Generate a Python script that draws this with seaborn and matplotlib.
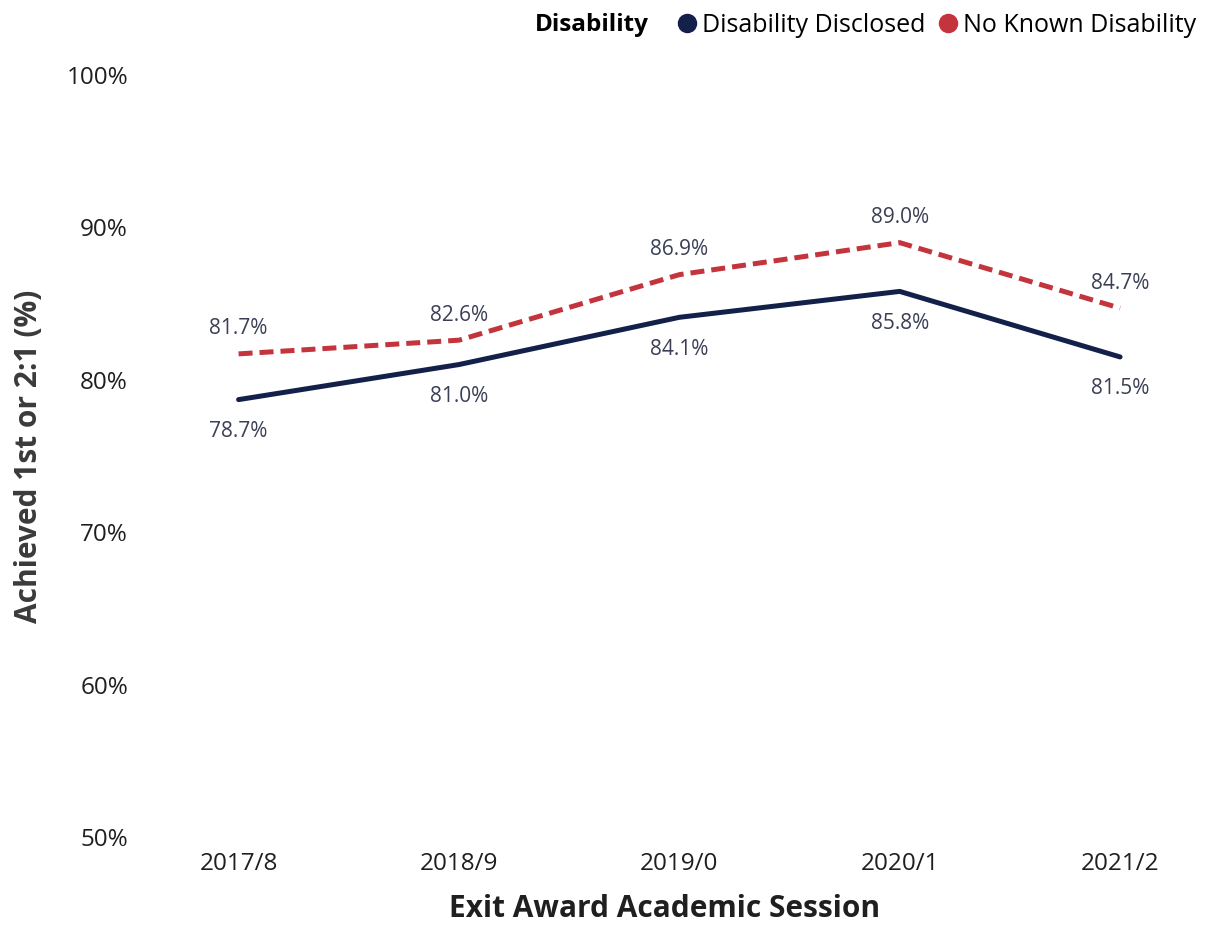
import matplotlib
matplotlib.use("Agg")
import matplotlib.pyplot as plt
import seaborn as sns
import pandas as pd
from matplotlib.lines import Line2D

sessions = ["2017/8", "2018/9", "2019/0", "2020/1", "2021/2"]
disclosed = [78.7, 81.0, 84.1, 85.8, 81.5]
no_known = [81.7, 82.6, 86.9, 89.0, 84.7]
series_names = ["Disability Disclosed", "No Known Disability"]
y_ticks = [50, 60, 70, 80, 90, 100]

navy = "#13214a"
red = "#c4343c"
text_dark = "#1f1f1f"
ylab_col = "#3a3a3a"
label_col = "#3b3f55"

sns.set_theme(style="white")
plt.rcParams['font.family'] = ['Open Sans', 'DejaVu Sans']

df = pd.DataFrame({
    "session": sessions * 2,
    "value": disclosed + no_known,
    "series": [series_names[0]] * len(sessions) + [series_names[1]] * len(sessions),
})

fig = plt.figure(figsize=(12.08, 9.27), dpi=100)
ax = fig.add_axes([135 / 1208, 1 - 837 / 927, (1195 - 135) / 1208, (837 - 75) / 927])

sns.lineplot(data=df, x="session", y="value", hue="series", style="series",
             palette={series_names[0]: navy, series_names[1]: red},
             dashes={series_names[0]: "", series_names[1]: (2.8, 1.4)},
             linewidth=3.6, sort=False, legend=False, ax=ax)

ax.set_ylim(50, 100)
ax.set_xlim(-0.47, 4.34)
ax.set_yticks(y_ticks)
ax.set_yticklabels([f"{t}%" for t in y_ticks])
for s in ax.spines.values():
    s.set_visible(False)
ax.grid(False)
ax.tick_params(axis="both", length=0, labelsize=17.5, colors=text_dark)
ax.tick_params(axis="x", pad=11)
ax.tick_params(axis="y", pad=5)

for i, (d, n) in enumerate(zip(disclosed, no_known)):
    ax.annotate(f"{n:.1f}%", (i, n), xytext=(0, 18), textcoords="offset points",
                ha="center", va="center", fontsize=15, color=label_col)
    ax.annotate(f"{d:.1f}%", (i, d), xytext=(0, -23), textcoords="offset points",
                ha="center", va="center", fontsize=15, color=label_col)

ax.set_xlabel("Exit Award Academic Session", fontsize=21.5, fontweight="bold",
              color=text_dark, labelpad=13)
ax.set_ylabel("Achieved 1st or 2:1 (%)", fontsize=21.5, fontweight="bold",
              color=ylab_col, labelpad=16)

handles = [Line2D([], [], marker="o", linestyle="", markersize=13, color=c)
           for c in (navy, red)]
leg = fig.legend(handles, series_names, loc="center right",
                 bbox_to_anchor=(1196 / 1208, 1 - 25 / 927), ncol=2, frameon=False,
                 fontsize=18, handletextpad=0.1, columnspacing=0.4,
                 borderaxespad=0, borderpad=0, handlelength=1.0)
for t in leg.get_texts():
    t.set_color("black")
fig.text(535 / 1208, 1 - 25 / 927, "Disability", fontsize=17.5, fontweight="bold",
         ha="left", va="center", color="black")

fig.savefig("out.png", dpi=100, facecolor="white")
